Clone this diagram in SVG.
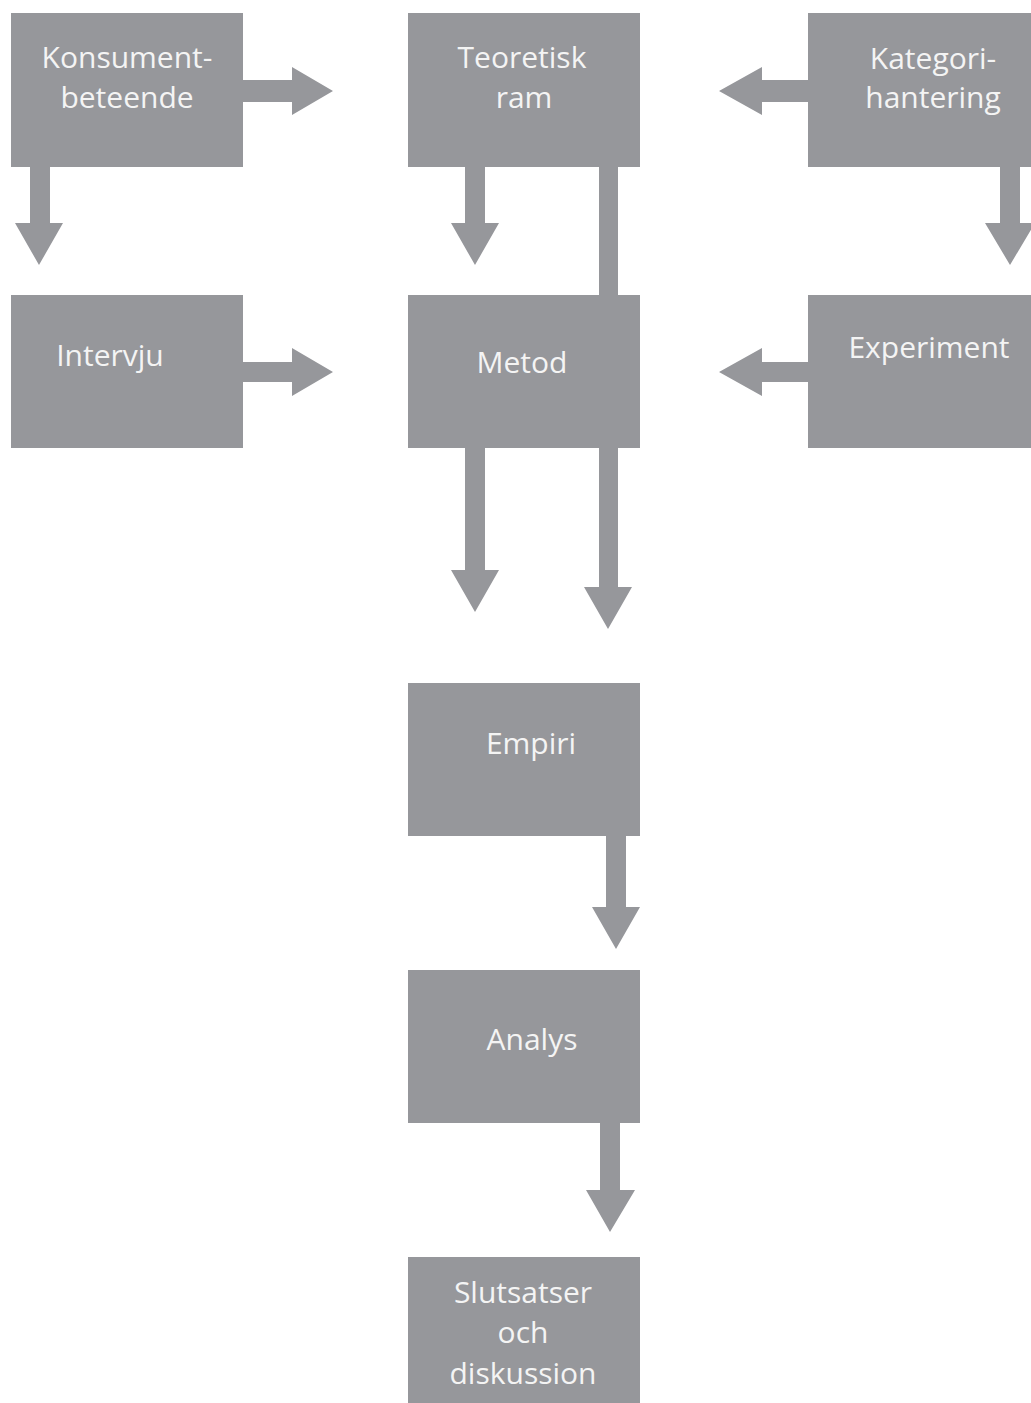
<svg xmlns="http://www.w3.org/2000/svg" width="1031" height="1403" viewBox="0 0 1031 1403">
<style>
.box{fill:#96979b}
.arr{fill:#96979b}
.t{font-family:"Open Sans","Liberation Sans",sans-serif;font-size:30px;fill:#f4f4f4;text-anchor:middle}
</style>
<rect width="1031" height="1403" fill="#ffffff"/>
<g id="connectors">
<path class="arr" d="M243,80 H292 V67 L333,91 L292,115 V102 H243 Z"/>
<path class="arr" d="M30,166 H50 V223 H63 L39,265 L15,223 H30 Z"/>
<path class="arr" d="M465,166 H485 V223 H499 L475,265 L451,223 H465 Z"/>
<rect class="arr" x="599" y="166" width="19" height="130"/>
<path class="arr" d="M808,80 H762 V67 L719,91 L762,115 V102 H808 Z"/>
<path class="arr" d="M1000,166 H1020 V223 H1035 L1010,265 L985,223 H1000 Z"/>
<path class="arr" d="M243,362 H292 V348 L333,372 L292,396 V382 H243 Z"/>
<path class="arr" d="M808,362 H762 V348 L719,372 L762,396 V382 H808 Z"/>
<path class="arr" d="M465,447 H485 V570 H499 L475,612 L451,570 H465 Z"/>
<path class="arr" d="M599,447 H618 V587 H632 L608,629 L584,587 H599 Z"/>
<path class="arr" d="M606,835 H626 V907 H640 L616,949 L592,907 H606 Z"/>
<path class="arr" d="M600,1122 H620 V1190 H635 L610,1232 L586,1190 H600 Z"/>
</g>
<g id="konsumentbeteende">
<rect class="box" x="11" y="13" width="232" height="154"/>
<text class="t" x="127" y="68">Konsument-</text>
<text class="t" x="127" y="108">beteende</text>
</g>
<g id="teoretisk-ram">
<rect class="box" x="408" y="13" width="232" height="154"/>
<text class="t" x="522" y="68">Teoretisk</text>
<text class="t" x="524" y="108">ram</text>
</g>
<g id="kategorihantering">
<rect class="box" x="808" y="13" width="223" height="154"/>
<text class="t" x="933" y="69">Kategori-</text>
<text class="t" x="933" y="108">hantering</text>
</g>
<g id="intervju">
<rect class="box" x="11" y="295" width="232" height="153"/>
<text class="t" x="110" y="366">Intervju</text>
</g>
<g id="metod">
<rect class="box" x="408" y="295" width="232" height="153"/>
<text class="t" x="522" y="373">Metod</text>
</g>
<g id="experiment">
<rect class="box" x="808" y="295" width="223" height="153"/>
<text class="t" x="929" y="358">Experiment</text>
</g>
<g id="empiri">
<rect class="box" x="408" y="683" width="232" height="153"/>
<text class="t" x="531" y="754">Empiri</text>
</g>
<g id="analys">
<rect class="box" x="408" y="970" width="232" height="153"/>
<text class="t" x="532" y="1050">Analys</text>
</g>
<g id="slutsatser">
<rect class="box" x="408" y="1257" width="232" height="146"/>
<text class="t" x="523" y="1303">Slutsatser</text>
<text class="t" x="523" y="1343">och</text>
<text class="t" x="523" y="1384">diskussion</text>
</g>
</svg>
